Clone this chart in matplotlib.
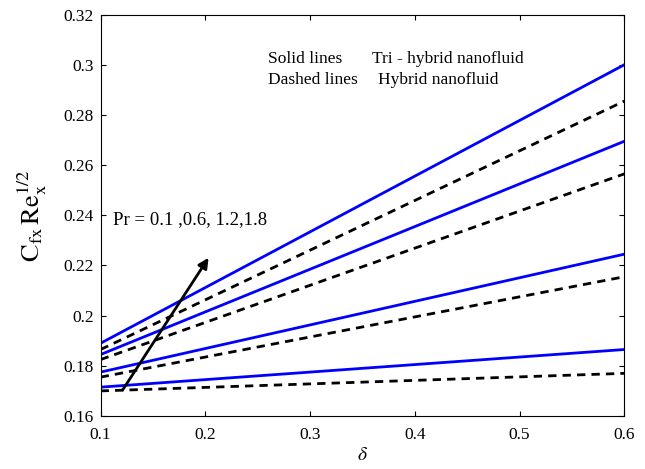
import matplotlib
matplotlib.use("Agg")
import matplotlib.pyplot as plt

plt.rcParams['font.family'] = ['Liberation Serif', 'DejaVu Serif']
plt.rcParams['mathtext.fontset'] = 'stix'

# endpoints of the straight lines
delta = [0.1, 0.6]
solid = [[0.189, 0.300], [0.1845, 0.2695], [0.1775, 0.2245], [0.1715, 0.1865]]
dashed = [[0.1865, 0.2855], [0.1825, 0.2565], [0.1755, 0.2155], [0.170, 0.177]]

fig = plt.figure(figsize=(6.45, 4.69), dpi=100)
ax = fig.add_axes([0.156, 0.113, 0.812, 0.856])

for s in solid:
    ax.plot(delta, s, color='#0000ff', lw=2)
for d in dashed:
    ax.plot(delta, d, color='black', lw=2, ls=(0, (3, 2.2)))

ax.annotate('', xy=(0.2045, 0.224), xytext=(0.1195, 0.1694),
            arrowprops=dict(arrowstyle='-|>', color='black', lw=2, mutation_scale=15))
ax.text(0.1119, 0.2382, 'Pr = 0.1 ,0.6, 1.2,1.8', fontsize=13.5, va='center')
ax.text(0.2598, 0.3023, 'Solid lines', fontsize=12.5, va='center')
ax.text(0.3592, 0.3023, 'Tri - hybrid nanofluid', fontsize=12.5, va='center')
ax.text(0.2598, 0.2939, 'Dashed lines', fontsize=12.5, va='center')
ax.text(0.365, 0.2939, 'Hybrid nanofluid', fontsize=12.5, va='center')

ax.set_xlim(0.1, 0.6)
ax.set_ylim(0.16, 0.32)
ax.set_xticks([0.1, 0.2, 0.3, 0.4, 0.5, 0.6])
ax.set_yticks([0.16, 0.18, 0.2, 0.22, 0.24, 0.26, 0.28, 0.3, 0.32])
ax.set_yticklabels(['0.16', '0.18', '0.2', '0.22', '0.24', '0.26', '0.28', '0.3', '0.32'])
ax.tick_params(direction='in', top=True, right=True, labelsize=12.5)
ax.tick_params(axis='x', pad=8)
ax.tick_params(axis='y', pad=5)
ax.set_xlabel(r'$\delta$', fontsize=14, labelpad=3)
ax.set_ylabel(r'$\mathrm{C_{fx}\,Re_x^{1/2}}$', fontsize=19)
ax.yaxis.set_label_coords(-0.098, 0.5)

fig.savefig('out.png', dpi=100)
